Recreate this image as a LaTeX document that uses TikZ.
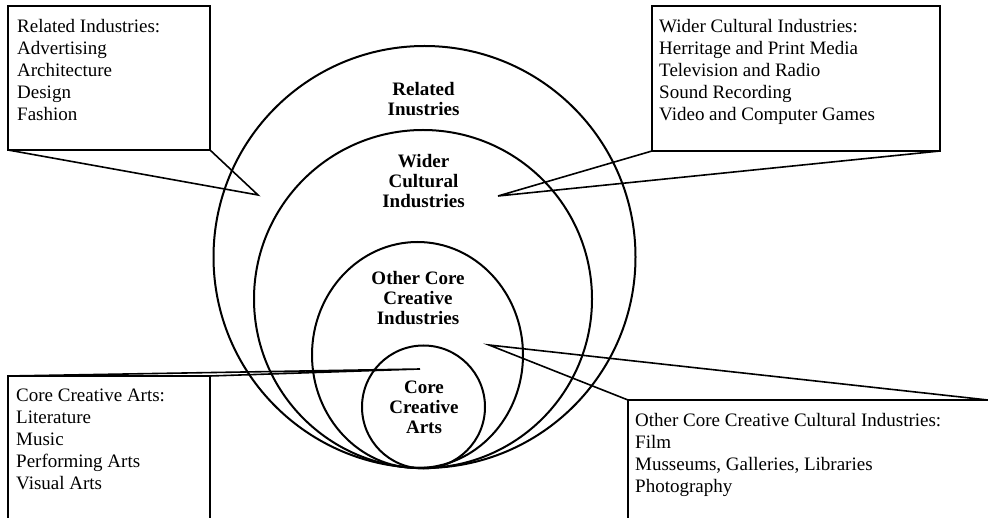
\documentclass[tikz,border=0pt]{standalone}
\usepackage{fontspec}
\setmainfont{Liberation Serif}
\usetikzlibrary{shapes.geometric}
\begin{document}
\begin{tikzpicture}[x=1pt,y=-1pt,
  ring/.style={draw, line width=2pt, inner sep=0pt, outer sep=0pt},
  calloutbox/.style={draw, rectangle, line width=1.8pt, inner sep=0pt, outer sep=0pt, anchor=north west},
  pointer/.style={line width=1.6pt, line join=miter},
  boxtext/.style={anchor=north west, inner sep=0pt, align=left, font=\fontsize{19}{22}\selectfont},
  ringlabel/.style={anchor=north, inner sep=0pt, align=center, font=\fontsize{19}{20}\selectfont\bfseries}]
\useasboundingbox (0,0) rectangle (988,518);
\clip (0,0) rectangle (988,518);
\fill[white] (0,0) rectangle (988,518);

% rings
\node[ring, circle, minimum size=422pt] (related) at (424.5,257) {};
\node[ring, circle, minimum size=338pt] (wider) at (423,299) {};
\node[ring, ellipse, minimum width=211pt, minimum height=226pt] (othercore) at (417.5,355) {};
\node[ring, circle, minimum size=123pt] (core) at (423.5,407) {};

% ring labels
\node[ringlabel] (lrel) at (423.5,82) {Related\\Inustries};
\node[ringlabel] (lwid) at (423.5,154) {Wider\\Cultural\\Industries};
\node[ringlabel] (loth) at (418,271) {Other Core\\Creative\\Industries};
\node[ringlabel] (lcor) at (424,381) {Core\\Creative\\Arts};

% callout boxes
\node[calloutbox, minimum width=202pt, minimum height=144pt] (b1) at (8,6) {};
\node[calloutbox, minimum width=288pt, minimum height=145pt] (b2) at (652,6) {};
\node[calloutbox, minimum width=202pt, minimum height=160pt] (b3) at (8,376) {};
\node[calloutbox, minimum width=380pt, minimum height=140pt] (b4) at (628,400) {};

% pointer tips
\coordinate (p1) at (258,195);
\coordinate (p2) at (498,196);
\coordinate (p3) at (420,369);
\coordinate (p4) at (489,345);

\draw[pointer] (b1.south west) -- (p1) -- (b1.south east);
\draw[pointer] (b2.south west) -- (p2) -- (b2.south east);
\draw[pointer] (b3.north west) -- (p3) -- (b3.north east);
\draw[pointer] (b4.north west) -- (p4) -- (988,400);

% box texts
\node[boxtext] (t1) at (17,19) {Related Industries:\\Advertising\\Architecture\\Design\\Fashion};
\node[boxtext] (t2) at (659,19) {Wider Cultural Industries:\\Herritage and Print Media\\Television and Radio\\Sound Recording\\Video and Computer Games};
\node[boxtext] (t3) at (16,389) {Core Creative Arts:\\Literature\\Music\\Performing Arts\\Visual Arts};
\node[boxtext] (t4) at (635,413) {Other Core Creative Cultural Industries:\\Film\\Musseums, Galleries, Libraries\\Photography};
\end{tikzpicture}
\end{document}
